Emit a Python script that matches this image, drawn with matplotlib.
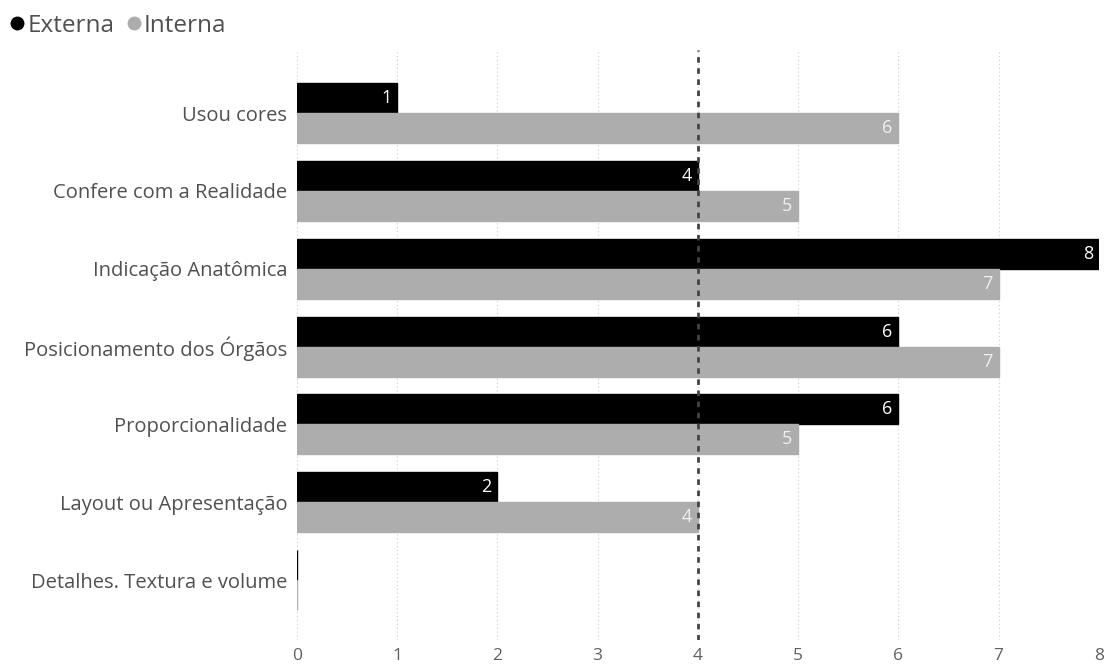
import numpy as np
import matplotlib.pyplot as plt
from matplotlib.lines import Line2D

plt.rcParams['font.family'] = ['Open Sans', 'DejaVu Sans']

categorias = ['Usou cores', 'Confere com a Realidade', 'Indicação Anatômica',
              'Posicionamento dos Órgãos', 'Proporcionalidade',
              'Layout ou Apresentação', 'Detalhes. Textura e volume']
externa = [1, 4, 8, 6, 6, 2, 0]
interna = [6, 5, 7, 7, 5, 4, 0]
ticks_x = [0, 1, 2, 3, 4, 5, 6, 7, 8]
linha_ref = 4

cor_ext = '#000000'
cor_int = '#ADADAD'

fig = plt.figure(figsize=(11.06, 6.66), dpi=100)
ax = fig.add_axes([0.2685, 0.039, 0.725, 0.886])

y = np.arange(len(categorias))
h = 0.385
ax.barh(y - h / 2, externa, height=h, color=cor_ext, edgecolor=cor_ext, linewidth=1, zorder=3)
ax.barh(y + h / 2, interna, height=h, color=cor_int, edgecolor=cor_int, linewidth=1, zorder=3)

# rótulos de valor dentro do fim da barra
for i, (e, n) in enumerate(zip(externa, interna)):
    if e > 0:
        ax.text(e - 0.06, i - h / 2, str(e), ha='right', va='center',
                color='white', fontsize=13, zorder=4)
    if n > 0:
        ax.text(n - 0.06, i + h / 2, str(n), ha='right', va='center',
                color='#F0F0F0', fontsize=13, zorder=4)

ax.axvline(linha_ref, color='#444444', linestyle=(0, (2, 2)), linewidth=2, zorder=5)

ax.set_xlim(0, 8)
ax.set_ylim(6.77, -0.81)
ax.set_xticks(ticks_x)
ax.set_yticks(y)
ax.set_yticklabels(categorias, fontsize=14.5, color='#505050')
ax.tick_params(axis='x', labelsize=12.5, colors='#606060', length=0, pad=6)
ax.tick_params(axis='y', length=0, pad=7)
ax.grid(axis='x', linestyle=(0, (1, 2.5)), color='#CCCCCC', linewidth=0.8, zorder=0)
for s in ax.spines.values():
    s.set_visible(False)

leg = [Line2D([0], [0], marker='o', color='w', markerfacecolor=cor_ext, markersize=11, label='Externa'),
       Line2D([0], [0], marker='o', color='w', markerfacecolor=cor_int, markersize=11, label='Interna')]
fig.legend(handles=leg, loc='upper left', bbox_to_anchor=(-0.015, 1.012), ncol=2, frameon=False,
           fontsize=17.5, handletextpad=-0.1, columnspacing=0.3, handlelength=1.0,
           labelcolor='#505050')

fig.savefig('out.png', dpi=100, facecolor='white')
